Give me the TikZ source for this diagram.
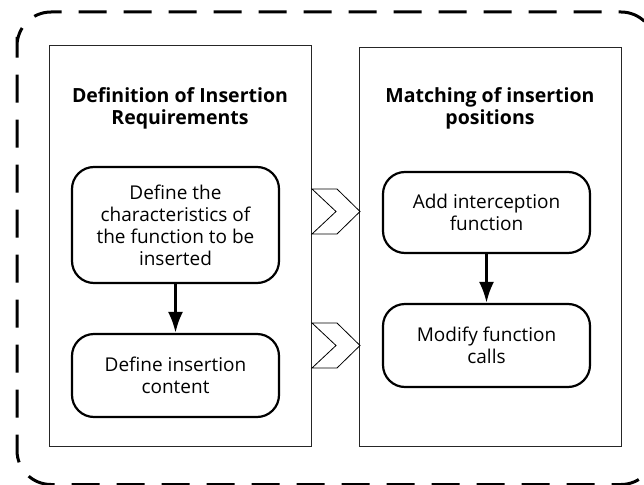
\documentclass[tikz,border=0pt]{standalone}
\usepackage{fontspec}
\setmainfont{Open Sans}
\usetikzlibrary{arrows.meta}
\begin{document}
\begin{tikzpicture}[x=1pt,y=-1pt,
  group/.style={draw=black!85,line width=0.9pt},
  stepbox/.style={draw=black,line width=2.2pt,rounded corners=22pt,align=center,font=\fontsize{19}{22}\selectfont},
  title/.style={align=center,font=\bfseries\fontsize{19.5}{22}\selectfont},
  flow/.style={line width=3pt,-{Latex[length=21pt,width=15pt]}},
  chev/.style={draw=black,line width=0.8pt,fill=white}]
\useasboundingbox (0,0) rectangle (644,484);
\draw[line width=3pt,dash pattern=on 28pt off 17pt,rounded corners=34pt]
  (17,37) -- (17,12) -- (655,12) -- (655,484.5) -- (17,484.5) -- (17,37);
\node[group,minimum width=262pt,minimum height=401pt,anchor=north west,inner sep=0pt] (L) at (49,45) {};
\node[group,minimum width=262pt,minimum height=399pt,anchor=north west,inner sep=0pt] (R) at (359,47) {};
\node[title] (lt) at (180,108.5) {Definition of Insertion\\Requirements};
\node[title] (rt) at (490,108.5) {Matching of insertion\\positions};
\node[stepbox,minimum width=207pt,minimum height=116pt,inner sep=0pt] (a) at (175.5,225) {Define the\\characteristics of\\the function to be\\inserted};
\node[stepbox,minimum width=207pt,minimum height=83pt,inner sep=0pt] (b) at (175.5,375.5) {Define insertion\\content};
\node[stepbox,minimum width=207pt,minimum height=81pt,inner sep=0pt] (c) at (486.5,212.5) {Add interception\\function};
\node[stepbox,minimum width=207pt,minimum height=83pt,inner sep=0pt] (d) at (486.5,345.5) {Modify function\\calls};
\draw[flow] (a) -- (b);
\draw[flow] (c) -- (d);
\draw[chev] (312,189) -- (337,189) -- (360,211.5) -- (337,234) -- (312,234) -- (336,211.5) -- cycle;
\draw[chev] (312,323) -- (337,323) -- (360,345.5) -- (337,368) -- (312,368) -- (336,345.5) -- cycle;
\end{tikzpicture}
\end{document}
